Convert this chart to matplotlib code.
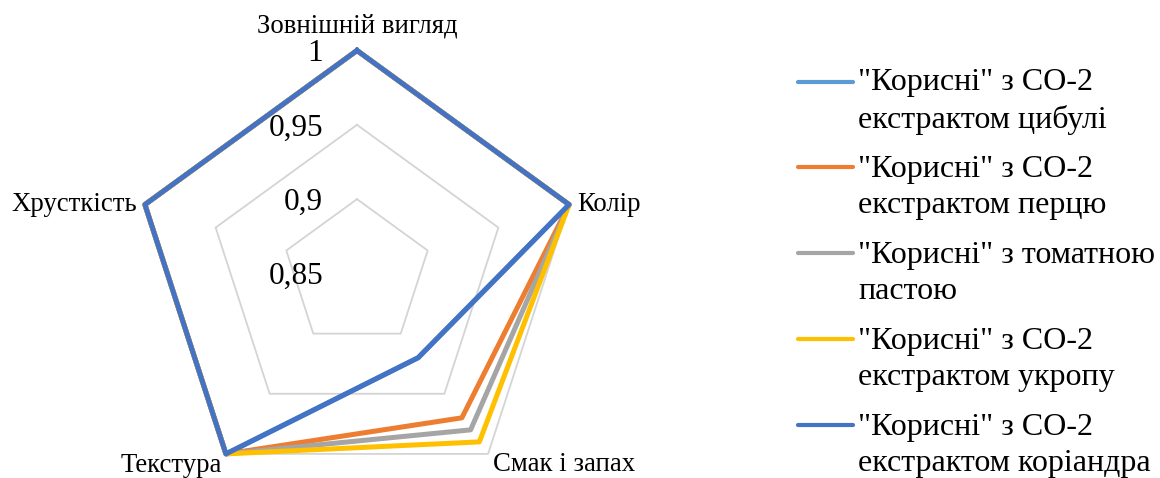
import numpy as np
import matplotlib
matplotlib.use("Agg")
import matplotlib.pyplot as plt
from matplotlib.lines import Line2D

plt.rcParams['font.family'] = ['Liberation Serif', 'DejaVu Serif']

# sensory profile of the "Корисні" products
categories = ["Зовнішній вигляд", "Колір", "Смак і запах", "Текстура", "Хрусткість"]
onion = [1.00, 1.00, 0.92, 1.00, 1.00]
pepper = [1.00, 1.00, 0.97, 1.00, 1.00]
tomato = [1.00, 1.00, 0.98, 1.00, 1.00]
dill = [1.00, 1.00, 0.99, 1.00, 1.00]
coriander = [1.00, 1.00, 0.92, 1.00, 1.00]
series_names = [
    "\"Корисні\" з СО-2\nекстрактом цибулі",
    "\"Корисні\" з СО-2\nекстрактом перцю",
    "\"Корисні\" з томатною\nпастою",
    "\"Корисні\" з СО-2\nекстрактом укропу",
    "\"Корисні\" з СО-2\nекстрактом коріандра",
]
r_ticks = [0.85, 0.90, 0.95, 1.00]
r_labels = ["0,85", "0,9", "0,95", "1"]

colors = ["#5B9BD5", "#ED7D31", "#A5A5A5", "#FFC000", "#4472C4"]

W, H = 1160, 478
fig = plt.figure(figsize=(W / 100, H / 100), dpi=100)

# polar axes: centre at (357, 273.5) px, outer radius 223 px
cx, cy, R = 357, 273.5, 223
ax = fig.add_axes([(cx - R) / W, (H - cy - R) / H, 2 * R / W, 2 * R / H], projection='polar')
ax.set_theta_zero_location('N')
ax.set_theta_direction(-1)
ax.set_ylim(r_ticks[0], r_ticks[-1])
ax.grid(False)
ax.set_xticks([])
ax.set_yticks([])
ax.spines['polar'].set_visible(False)

angles = np.linspace(0, 2 * np.pi, len(categories), endpoint=False)
closed = np.append(angles, angles[0])

# pentagon gridlines
for r in r_ticks[1:]:
    ax.plot(closed, [r] * len(closed), color='#D4D4D4', lw=1.3, zorder=1, clip_on=False)

for vals, color in zip([onion, pepper, tomato, dill, coriander], colors):
    ax.plot(closed, vals + vals[:1], color=color, lw=3.6, zorder=3, clip_on=False)

# radial value labels along the top axis
for r, lab in zip(r_ticks, r_labels):
    ax.annotate(lab, xy=(0, r), xytext=(-34, -3), textcoords='offset pixels',
                ha='right', va='center', fontsize=22.5, annotation_clip=False)

# category labels around the chart
offsets = [(0, 25, 'center'), (8, 0, 'left'), (5, -11, 'left'), (-4, -12, 'right'), (-8, 0, 'right')]
for ang, cat, (dx, dy, ha) in zip(angles, categories, offsets):
    ax.annotate(cat, xy=(ang, r_ticks[-1]), xytext=(dx, dy), textcoords='offset pixels',
                ha=ha, va='center', fontsize=19.3, annotation_clip=False)

# legend, handle level with the first text line
handle_y = [82, 167, 253, 339, 425]
for name, color, y in zip(series_names, colors, handle_y):
    fig.add_artist(Line2D([798 / W, 853 / W], [1 - y / H] * 2, color=color, lw=3,
                          solid_capstyle='round'))
    fig.text(858 / W, 1 - (y + 11 + 35) / H, name, ha='left', va='baseline',
             fontsize=23, linespacing=1.33)

fig.savefig("out.png", dpi=100)
